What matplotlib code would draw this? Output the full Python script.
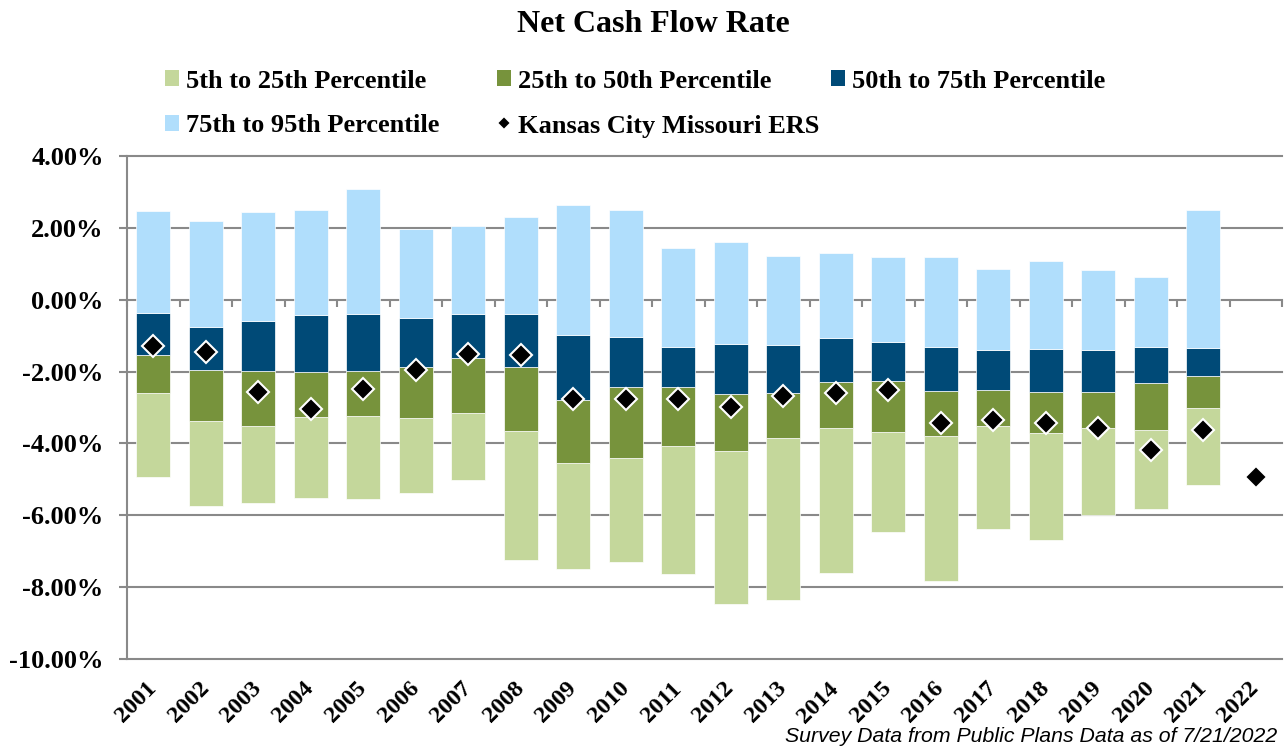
import numpy as np
import matplotlib.pyplot as plt
from matplotlib import rcParams
from matplotlib.patches import Patch

rcParams['font.family'] = ['Liberation Serif', 'DejaVu Serif']
rcParams['font.weight'] = 'bold'

# data (percent)
years = [str(y) for y in range(2001, 2023)]
p95 = [2.47, 2.19, 2.45, 2.51, 3.07, 1.97, 2.06, 2.29, 2.63, 2.50, 1.45,
       1.61, 1.22, 1.30, 1.20, 1.18, 0.86, 1.08, 0.82, 0.63, 2.50]
p75 = [-0.36, -0.75, -0.58, -0.42, -0.39, -0.50, -0.40, -0.40, -0.97, -1.03, -1.31,
       -1.22, -1.26, -1.07, -1.19, -1.31, -1.41, -1.38, -1.39, -1.31, -1.34]
p50 = [-1.54, -1.96, -1.98, -2.01, -1.99, -1.88, -1.62, -1.88, -2.79, -2.44, -2.44,
       -2.62, -2.60, -2.29, -2.25, -2.53, -2.52, -2.58, -2.57, -2.32, -2.12]
p25 = [-2.59, -3.38, -3.52, -3.26, -3.24, -3.29, -3.15, -3.65, -4.54, -4.40, -4.07,
       -4.20, -3.86, -3.58, -3.68, -3.78, -3.52, -3.72, -3.57, -3.63, -3.02]
p05 = [-4.94, -5.73, -5.66, -5.52, -5.54, -5.38, -5.02, -7.25, -7.50, -7.31, -7.64,
       -8.48, -8.35, -7.60, -6.46, -7.82, -6.38, -6.70, -5.98, -5.82, -5.16]
kc_ers = [-1.28, -1.45, -2.58, -3.04, -2.49, -1.95, -1.52, -1.54, -2.77, -2.76, -2.76,
          -2.98, -2.69, -2.59, -2.51, -3.43, -3.35, -3.42, -3.58, -4.19, -3.63, -4.94]

labels = ['5th to 25th Percentile', '25th to 50th Percentile',
          '50th to 75th Percentile', '75th to 95th Percentile']
colors = ['#C4D79B', '#77933C', '#004A77', '#B0DEFC']
grid_col = '#898989'

fig = plt.figure(figsize=(12.88, 7.48), dpi=100)
ax = fig.add_axes([127/1288, 1 - 659/748, 1155/1288, 503/748])

x_all = np.arange(len(years))
x_bar = np.arange(len(p05))
lows = [p05, p25, p50, p75]
highs = [p25, p50, p75, p95]
handles = []
for lo, hi, col, lab in zip(lows, highs, colors, labels):
    lo = np.array(lo)
    hi = np.array(hi)
    ax.bar(x_bar, hi - lo, bottom=lo, width=0.65, color=col,
           edgecolor='white', linewidth=0.5, zorder=2, label=lab)
    handles.append(Patch(facecolor=col, edgecolor='none'))

kc_line, = ax.plot(x_all, kc_ers, ls='none', marker='D', ms=11, mfc='black',
                   mec='white', mew=1.5, zorder=3)

ax.set_xlim(-0.5, len(years) - 0.5)
ax.set_ylim(-10, 4)
ax.set_yticks(np.arange(-10, 5, 2))
ax.yaxis.set_major_formatter(plt.FuncFormatter(lambda v, p: f'{v:.2f}%'))
ax.set_axisbelow(True)
ax.yaxis.grid(True, color=grid_col, lw=1.5)
for gl in ax.get_ygridlines():
    gl.set_clip_on(False)
ax.xaxis.grid(False)

for s in ['top', 'right', 'bottom']:
    ax.spines[s].set_visible(False)
ax.spines['left'].set_color(grid_col)
ax.spines['left'].set_linewidth(1.5)
ax.tick_params(axis='y', direction='out', length=5.8, width=1.5, color=grid_col,
               labelsize=19, pad=11)

# category tick marks on the zero line
ax.vlines(np.arange(len(years) + 1) - 0.5, -0.2, 0, color=grid_col, lw=1.5,
          zorder=1, clip_on=False)

ax.set_xticks(x_all)
ax.set_xticklabels(years, rotation=45, ha='right', va='center',
                   rotation_mode='anchor')
ax.tick_params(axis='x', length=0, labelsize=17.5, pad=19)

fig.text(0.507, 1 - 32/748, 'Net Cash Flow Rate', ha='center', va='baseline',
         fontsize=23, fontweight='bold')

# legend entries placed like the original (row-major, fixed columns)
leg_pos = [(165, 81), (497, 81), (831, 81), (165, 126)]
for h, lab, (px, py) in zip(handles, labels, leg_pos):
    fig.legend([h], [lab], loc='center left',
               bbox_to_anchor=(px/1288, 1 - py/748), frameon=False,
               fontsize=19, borderpad=0, borderaxespad=0,
               handlelength=0.53, handleheight=0.53, handletextpad=0.25)
fig.legend([kc_line], ['Kansas City Missouri ERS'], loc='center left',
           bbox_to_anchor=(497/1288, 1 - 126/748), frameon=False,
           fontsize=19, borderpad=0, borderaxespad=0, markerscale=0.62,
           handlelength=0.53, handletextpad=0.25)

fig.text(1277/1288, 1 - 742/748, 'Survey Data from Public Plans Data as of 7/21/2022',
         ha='right', va='baseline', fontsize=15.3, style='italic', fontweight='normal',
         family='Liberation Sans')

fig.savefig('out.png', dpi=100)
